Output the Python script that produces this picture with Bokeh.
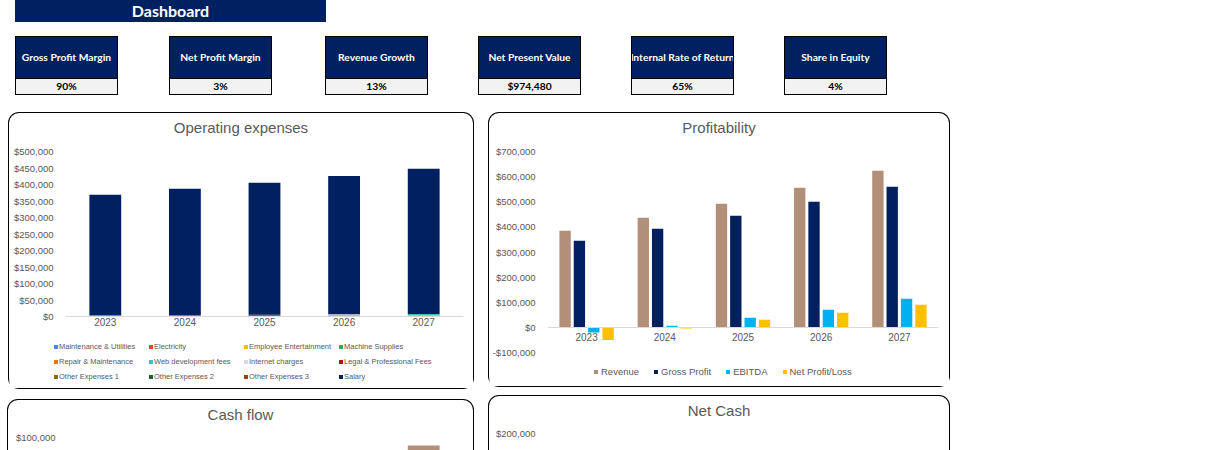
from bokeh.plotting import figure
from bokeh.models import (ColumnDataSource, Legend, LegendItem, NumeralTickFormatter,
                          SingleIntervalTicker, Div, Spacer, Range1d, FactorRange)
from bokeh.layouts import row, column
from bokeh.transform import dodge
from bokeh.embed import file_html
from bokeh.resources import INLINE

# ---------------- data ----------------
years = ["2023", "2024", "2025", "2026", "2027"]

kpi_titles = ["Gross Profit Margin", "Net Profit Margin", "Revenue Growth",
              "Net Present Value", "Internal Rate of Return", "Share in Equity"]
kpi_values = ["90%", "3%", "13%", "$974,480", "65%", "4%"]

opex_labels = ["Maintenance & Utilities", "Electricity", "Employee Entertainment",
               "Machine Supplies", "Repair & Maintenance", "Web development fees",
               "Internet charges", "Legal & Professional Fees", "Other Expenses 1",
               "Other Expenses 2", "Other Expenses 3", "Salary"]
maintenance_utilities = [0, 0, 0, 0, 0]
electricity = [0, 0, 0, 0, 0]
employee_entertainment = [0, 0, 0, 4500, 4500]
machine_supplies = [0, 4000, 2500, 0, 0]
repair_maintenance = [4000, 0, 0, 0, 0]
web_development_fees = [0, 0, 0, 0, 3000]
internet_charges = [0, 0, 0, 2500, 0]
legal_professional_fees = [0, 0, 2500, 0, 0]
other_expenses_1 = [0, 0, 0, 0, 0]
other_expenses_2 = [0, 0, 0, 0, 0]
other_expenses_3 = [0, 0, 0, 0, 0]
salary = [364800, 382900, 400000, 419000, 440000]

profit_labels = ["Revenue", "Gross Profit", "EBITDA", "Net Profit/Loss"]
revenue = [384500, 436300, 492000, 555600, 623200]
gross_profit = [344800, 392500, 444200, 500000, 559600]
ebitda = [-20000, 6600, 38500, 70300, 114000]
net_profit = [-50000, -4000, 30500, 58300, 90200]

# cash flow: only the top of the 2027 bar is visible in the picture
cash_flow = [-40000, 10000, 45000, 70000, 92000]

chart_titles = ["Operating expenses", "Profitability", "Cash flow", "Net Cash"]

# ---------------- styles ----------------
NAVY = "#002060"
GREY_TXT = "#595959"
opex_colors = ["#4285F4", "#EA4335", "#FBBC04", "#34A853", "#FF6D01", "#46BDC6",
               "#D9D9D9", "#9E1B16", "#8B6D00", "#1D5E2A", "#A0410D", NAVY]
profit_colors = ["#B28F78", NAVY, "#00B0F0", "#FFC000"]
FONT = "Liberation Sans"
BL = "1.5px solid #000"

SIDES = {"border-left": BL, "border-right": BL, "box-sizing": "border-box"}
BOTTOM = {"border-left": BL, "border-right": BL, "border-bottom": BL,
          "border-radius": "0 0 11px 11px", "box-sizing": "border-box"}


def no_align(p):
    if "frame_align" in p.properties():
        p.frame_align = False


def title_div(text, w):
    html = (f'<div style="box-sizing:border-box;width:{w}px;height:30px;border:{BL};'
            'border-bottom:none;border-radius:11px 11px 0 0;background:#fff;'
            f'font-family:\'{FONT}\';font-size:15px;color:{GREY_TXT};text-align:center;'
            f'padding-top:6px;line-height:18px;white-space:nowrap;">{text}</div>')
    return Div(text=html, width=w, height=30, margin=0)


def style_axes(p):
    no_align(p)
    p.xgrid.grid_line_color = None
    p.ygrid.grid_line_color = None
    p.outline_line_color = None
    p.yaxis.axis_line_color = None
    p.yaxis.major_tick_line_color = None
    p.yaxis.minor_tick_line_color = None
    p.yaxis.major_tick_out = 0
    p.yaxis.major_tick_in = 0
    p.yaxis.major_label_text_font = FONT
    p.yaxis.major_label_text_font_size = "9.5px"
    p.yaxis.major_label_text_color = GREY_TXT
    p.yaxis.major_label_standoff = 8
    p.yaxis.formatter = NumeralTickFormatter(format="$0,0")
    p.xaxis.axis_line_color = "#D9D9D9"
    p.xaxis.axis_line_width = 1.2
    p.xaxis.major_tick_line_color = None
    p.xaxis.minor_tick_line_color = None
    p.xaxis.major_tick_out = 0
    p.xaxis.major_tick_in = 0
    p.xaxis.major_label_text_font = FONT
    p.xaxis.major_label_text_font_size = "10px"
    p.xaxis.major_label_text_color = GREY_TXT
    p.xaxis.major_label_standoff = 1


def legend_fig(w, h):
    p = figure(x_range=FactorRange(*years), y_range=Range1d(1e8, 2e8), width=w, height=h,
               output_backend="svg", toolbar_location=None,
               x_axis_location=None, y_axis_location=None,
               min_border_left=0, min_border_right=0, min_border_top=0, min_border_bottom=0)
    no_align(p)
    p.grid.visible = False
    p.outline_line_color = None
    p.styles = BOTTOM
    return p


# ---------------- header & KPIs ----------------
header = Div(text=(
    f'<div style="width:311px;height:22px;background:{NAVY};color:#fff;'
    'font-family:Lato;font-weight:bold;font-size:16px;display:flex;'
    'align-items:center;justify-content:center;">Dashboard</div>'),
    width=311, height=22, margin=0)


def kpi_box(title, val):
    html = (
        '<div style="width:103px;height:59px;box-sizing:border-box;border:1px solid #000;'
        'display:flex;flex-direction:column;font-family:Lato;font-weight:bold;font-size:10.3px;">'
        f'<div style="height:41px;background:{NAVY};color:#fff;display:flex;align-items:center;'
        f'justify-content:center;white-space:nowrap;overflow:hidden;">{title}</div>'
        '<div style="flex:1;background:#F2F2F2;color:#000;border-top:1px solid #000;display:flex;'
        f'align-items:center;justify-content:center;">{val}</div></div>')
    return Div(text=html, width=103, height=59, margin=0)


kpi_gaps = [15, 51, 53, 50, 50, 50]
kpi_children = []
for g, t, v in zip(kpi_gaps, kpi_titles, kpi_values):
    kpi_children.append(Spacer(width=g, height=59))
    kpi_children.append(kpi_box(t, v))
kpi_row = row(*kpi_children)

# ---------------- Operating expenses ----------------
opex_keys = ["maint", "elec", "empent", "machine", "repair", "webdev", "internet",
             "legal", "oth1", "oth2", "oth3", "salary"]
src1 = ColumnDataSource(dict(year=years, maint=maintenance_utilities, elec=electricity,
                             empent=employee_entertainment, machine=machine_supplies,
                             repair=repair_maintenance, webdev=web_development_fees,
                             internet=internet_charges, legal=legal_professional_fees,
                             oth1=other_expenses_1, oth2=other_expenses_2,
                             oth3=other_expenses_3, salary=salary))

p1 = figure(x_range=FactorRange(*years, range_padding=0), y_range=Range1d(0, 500000),
            width=466, height=192, output_backend="svg", toolbar_location=None,
            min_border_left=56, min_border_right=12, min_border_top=9, min_border_bottom=18)
p1.vbar_stack(opex_keys, x="year", width=0.4, fill_color=opex_colors,
              line_color=None, source=src1)
style_axes(p1)
p1.yaxis.ticker = SingleIntervalTicker(interval=50000)
p1.styles = SIDES

p1l = legend_fig(466, 55)
rs1 = p1l.vbar_stack(opex_keys, x="year", width=0.4, fill_color=opex_colors,
                     line_color=None, source=src1)
leg1 = Legend(items=[LegendItem(label=l, renderers=[r]) for l, r in zip(opex_labels, rs1)],
              orientation="horizontal", ncols=4, location=(44, 5.5),
              glyph_width=5, glyph_height=5, label_standoff=1, label_width=89,
              label_height=15, spacing=0, padding=0, margin=0,
              label_text_font=FONT, label_text_font_size="7.5px",
              label_text_color=GREY_TXT, border_line_color=None,
              background_fill_alpha=0)
p1l.add_layout(leg1)

panel1 = column(title_div(chart_titles[0], 466), p1, p1l)

# ---------------- Profitability ----------------
src2 = ColumnDataSource(dict(year=years, revenue=revenue, gross=gross_profit,
                             ebitda=ebitda, net=net_profit))
offsets = [-0.275, -0.092, 0.092, 0.275]
fields = ["revenue", "gross", "ebitda", "net"]

p2 = figure(x_range=FactorRange(*years, range_padding=0), y_range=Range1d(-100000, 700000),
            width=462, height=224, output_backend="svg", toolbar_location=None,
            min_border_left=58, min_border_right=13, min_border_top=9, min_border_bottom=14)
for f, off, c in zip(fields, offsets, profit_colors):
    p2.vbar(x=dodge("year", off, range=p2.x_range), top=f, bottom=0,
            width=0.145, fill_color=c, line_color=None, source=src2)
style_axes(p2)
p2.yaxis.ticker = SingleIntervalTicker(interval=100000)
p2.xaxis.fixed_location = 0
p2.xaxis.major_label_standoff = 6
p2.styles = SIDES

p2l = legend_fig(462, 21)
rs2 = []
for f, off, c in zip(fields, offsets, profit_colors):
    rs2.append(p2l.vbar(x=dodge("year", off, range=p2l.x_range), top=f, bottom=0,
                        width=0.145, fill_color=c, line_color=None, source=src2))
leg2 = Legend(items=[LegendItem(label=l, renderers=[r]) for l, r in zip(profit_labels, rs2)],
              orientation="horizontal", location=(104, 10.5),
              glyph_width=5, glyph_height=5, label_standoff=3, label_height=10,
              spacing=14, padding=0, margin=0,
              label_text_font=FONT, label_text_font_size="9.5px",
              label_text_color=GREY_TXT, border_line_color=None,
              background_fill_alpha=0)
p2l.add_layout(leg2)

panel2 = column(title_div(chart_titles[1], 462), p2, p2l)

# ---------------- cut-off panels (only tops visible) ----------------
src3 = ColumnDataSource(dict(year=years, cash=cash_flow))
p3 = figure(x_range=FactorRange(*years, range_padding=0), y_range=Range1d(87000, 100000),
            width=467, height=21, output_backend="svg", toolbar_location=None,
            min_border_left=57, min_border_right=12, min_border_top=8, min_border_bottom=0)
p3.vbar(x="year", top="cash", bottom=0, width=0.4, fill_color="#B28F78",
        line_color=None, source=src3)
style_axes(p3)
p3.xaxis.visible = False
p3.yaxis.ticker = SingleIntervalTicker(interval=100000)
p3.yaxis.major_label_standoff = 6
p3.styles = SIDES
panel3 = column(title_div(chart_titles[2], 467), p3)

p4 = figure(x_range=FactorRange(*years, range_padding=0), y_range=Range1d(180000, 200000),
            width=462, height=25, output_backend="svg", toolbar_location=None,
            min_border_left=58, min_border_right=13, min_border_top=8, min_border_bottom=0)
style_axes(p4)
p4.xaxis.visible = False
p4.yaxis.ticker = SingleIntervalTicker(interval=100000)
p4.styles = SIDES
panel4 = column(title_div(chart_titles[3], 462), p4)

layout = column(
    row(Spacer(width=15, height=22), header),
    Spacer(height=14),
    kpi_row,
    Spacer(height=17),
    row(Spacer(width=8, height=277), panel1, Spacer(width=14, height=277), panel2),
    Spacer(height=6),
    row(Spacer(width=7, height=55), column(Spacer(height=4), panel3),
        Spacer(width=14, height=55), panel4),
)

open("out.html", "w").write(file_html(layout, INLINE))
